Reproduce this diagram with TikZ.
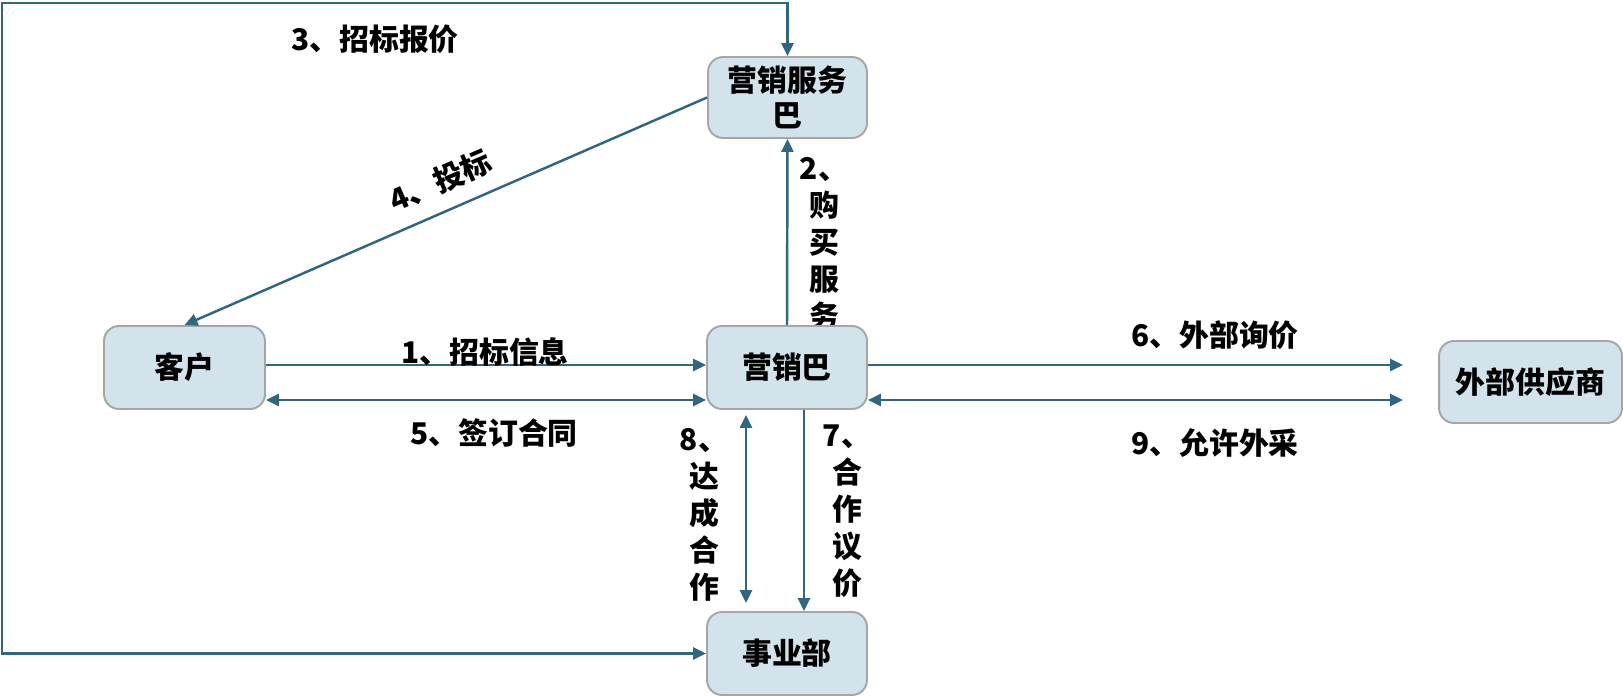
\documentclass[tikz,border=0pt]{standalone}
\usepackage{fontspec}
\newfontfamily\cjk{Noto Sans CJK SC}
\usetikzlibrary{arrows.meta,backgrounds}
\definecolor{arrowc}{RGB}{49,102,128}
\definecolor{boxfill}{RGB}{210,227,236}
\definecolor{boxgray}{RGB}{166,166,166}
\begin{document}
\begin{tikzpicture}[x=0.02cm,y=-0.02cm,
  box/.style={draw=boxgray, line width=1.1pt, fill=boxfill, rounded corners=0.3cm,
    minimum width=3.2cm, minimum height=1.66cm, inner sep=0pt, align=center,
    font=\cjk\bfseries\fontsize{17}{19.5}\selectfont},
  arr/.style={draw=arrowc, line width=1.4pt, -{Triangle[length=0.26cm,width=0.24cm]}},
  darr/.style={draw=arrowc, line width=1.4pt, {Triangle[length=0.26cm,width=0.24cm]}-{Triangle[length=0.26cm,width=0.24cm]}},
  lbl/.style={font=\cjk\bfseries\fontsize{17}{21}\selectfont, inner sep=0pt},
  vlbl/.style={lbl, align=center, text width=1.2cm}]
\useasboundingbox (0,0) rectangle (1623,696);
% nodes
\node[box, minimum width=3.18cm, minimum height=1.62cm] (fwb) at (787.5,97.5) {营销服务\\巴};
\node[box] (yxb) at (787,367.5) {营销巴};
\node[box] (syb) at (787,653.5) {事业部};
\node[box, minimum width=3.22cm] (kh) at (184.5,367.5) {客户};
\node[box, minimum width=3.66cm, minimum height=1.64cm] (gys) at (1530.5,382) {外部供应商};
\coordinate (corner) at (2,3);
% connectors
\draw[arr] (kh.east |- 0,365) -- (yxb.west |- 0,365);
\draw[darr] (kh.east |- 0,400) -- (yxb.west |- 0,400);
\draw[arr, shorten >=0.7cm] (yxb.east |- 0,365) -- (gys.west |- 0,365);
\draw[darr, shorten >=0.7cm] (yxb.east |- 0,400) -- (gys.west |- 0,400);
\draw[arr] (yxb.south -| 804,0) -- (syb.north -| 804,0);
\draw[darr, shorten <=0.1cm, shorten >=0.16cm] (yxb.south -| 746,0) -- (syb.north -| 746,0);
\draw[arr] (yxb.north) -- (fwb.south);
\draw[arr] (fwb.west) -- (kh.north);
\draw[darr] (syb.west) -| (corner) -| (fwb.north);
% labels
\node[lbl] (l3) at (375,39) {3、招标报价};
\node[lbl, rotate=23.5] (l4) at (440,181) {4、投标};
\node[lbl] (l1) at (485,352) {1、招标信息};
\node[lbl] (l5) at (494,433) {5、签订合同};
\node[lbl] (l6) at (1215,335) {6、外部询价};
\node[lbl] (l9) at (1215,443) {9、允许外采};
\begin{pgfonlayer}{background}
\node[vlbl] (l2) at (824,244) {2、\\购\\买\\服\\务};
\end{pgfonlayer}
\node[vlbl] (l8) at (704,515) {8、\\达\\成\\合\\作};
\node[vlbl] (l7) at (847,511) {7、\\合\\作\\议\\价};
\end{tikzpicture}
\end{document}
